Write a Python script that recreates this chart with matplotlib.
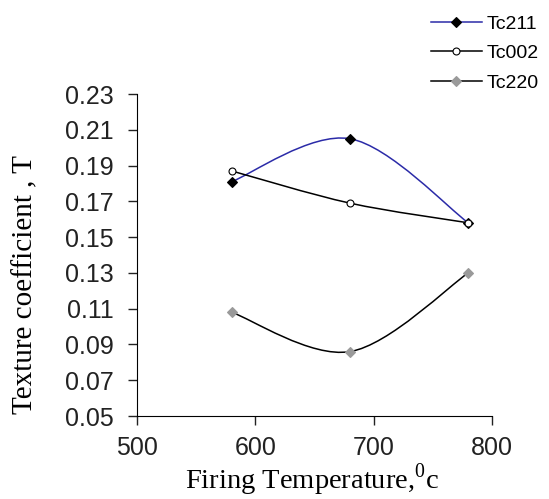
import matplotlib
matplotlib.use("Agg")
import matplotlib.pyplot as plt
from matplotlib.path import Path
from matplotlib.patches import PathPatch
from matplotlib.lines import Line2D

plt.rcParams['font.family'] = ['Liberation Sans', 'DejaVu Sans']
plt.rcParams['mathtext.fontset'] = 'custom'
plt.rcParams['mathtext.rm'] = 'Liberation Serif'

# data
temps = [580, 680, 780]
tc211 = [0.181, 0.205, 0.158]
tc002 = [0.187, 0.169, 0.158]
tc220 = [0.108, 0.086, 0.130]
series_names = ['Tc211', 'Tc002', 'Tc220']
x_ticks = [500, 600, 700, 800]
y_ticks = [0.05, 0.07, 0.09, 0.11, 0.13, 0.15, 0.17, 0.19, 0.21, 0.23]


def smooth_path(xs, ys):
    """Excel-like smoothed line: bezier segments through the data points."""
    pts = list(zip(xs, ys))
    verts = [pts[0]]
    codes = [Path.MOVETO]
    n = len(pts)
    for i in range(n - 1):
        p0 = pts[max(i - 1, 0)]
        p1 = pts[i]
        p2 = pts[i + 1]
        p3 = pts[min(i + 2, n - 1)]
        c1 = (p1[0] + (p2[0] - p0[0]) / 6, p1[1] + (p2[1] - p0[1]) / 6)
        c2 = (p2[0] - (p3[0] - p1[0]) / 6, p2[1] - (p3[1] - p1[1]) / 6)
        verts += [c1, c2, p2]
        codes += [Path.CURVE4] * 3
    return Path(verts, codes)


fig = plt.figure(figsize=(5.49, 4.99), dpi=100)
ax = fig.add_axes([0.2495, 0.1663, 0.6466, 0.6453])

styles = [
    dict(color='#2b2ba8', marker='D', mfc='black', mec='black', ms=5),
    dict(color='black', marker='o', mfc='white', mec='black', ms=5),
    dict(color='black', marker='D', mfc='#9a9a9a', mec='#9a9a9a', ms=5),
]

handles = []
for ys, st, name in zip([tc211, tc002, tc220], styles, series_names):
    ax.add_patch(PathPatch(smooth_path(temps, ys), facecolor='none',
                           edgecolor=st['color'], lw=1.1, zorder=2))
    ax.plot(temps, ys, linestyle='none', marker=st['marker'], ms=st['ms'],
            mfc=st['mfc'], mec=st['mec'], mew=0.8, zorder=3)
    handles.append(Line2D([], [], color=st['color'], lw=1.1, marker=st['marker'],
                          ms=st['ms'], mfc=st['mfc'], mec=st['mec'], mew=0.8))

ax.set_xlim(500, 800)
ax.set_ylim(0.05, 0.23)
ax.set_xticks(x_ticks)
ax.set_yticks(y_ticks)
ax.set_yticklabels([f"{v:.2f}" for v in y_ticks])
ax.spines['top'].set_visible(False)
ax.spines['right'].set_visible(False)
ax.tick_params(labelsize=18, length=6.5, width=1, colors='#222222')
ax.tick_params(axis='y', pad=10)
ax.tick_params(axis='x', pad=8)

ax.set_xlabel('Firing Temperature,$^{0}$c', family='Liberation Serif',
              fontsize=20.5, va='top')
ax.xaxis.set_label_coords(0.494, -0.14)
ax.set_ylabel('Texture coefficient , T', family='Liberation Serif',
              fontsize=21)
ax.yaxis.set_label_coords(-0.278, 0.407)

fig.legend(handles, series_names, loc='upper left',
           bbox_to_anchor=(431 / 549, 1 - 15 / 499), frameon=False,
           fontsize=14, handlelength=2.6, handletextpad=0.25,
           labelspacing=0.62, borderpad=0, borderaxespad=0)

fig.savefig('out.png', dpi=100)
